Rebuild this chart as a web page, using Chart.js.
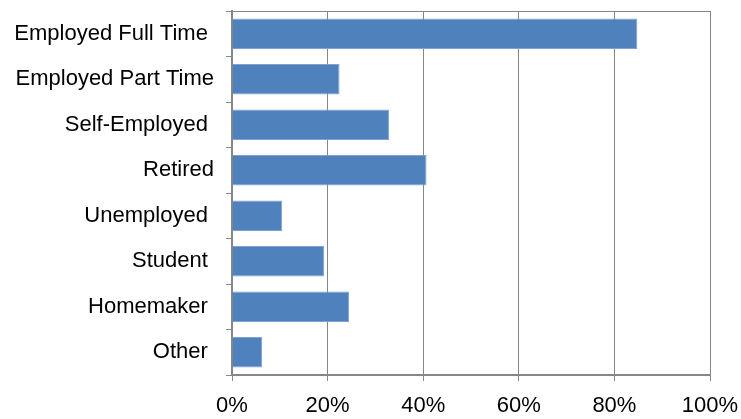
<!DOCTYPE html>
<html>
<head>
<meta charset="utf-8">
<script src="https://cdn.jsdelivr.net/npm/chart.js@4/dist/chart.umd.min.js"></script>
<style>
  html, body { margin: 0; padding: 0; background: #ffffff; }
  #wrap { width: 741px; height: 419px; }
</style>
</head>
<body>
<div id="wrap"><canvas id="employmentChart"></canvas></div>
<script>
// Datos (porcentajes)
const categorias = ["Employed Full Time ", "Employed Part Time", "Self-Employed ", "Retired", "Unemployed ", "Student ", "Homemaker ", "Other "];
const porcentajes = [84.8, 22.5, 32.9, 40.7, 10.5, 19.3, 24.5, 6.3];
const ticksX = [0, 20, 40, 60, 80, 100];

const gris = '#868686';
const fuente = { family: "'Liberation Sans', Arial, sans-serif", size: 22 };

// Quitar el relleno automatico de los ejes
function sinRelleno(scale) {
    scale.paddingTop = 0;
    scale.paddingBottom = 0;
    scale.paddingLeft = 0;
    scale.paddingRight = 0;
}

// Grafico de barras horizontales
const ctx = document.getElementById('employmentChart').getContext('2d');
const chart = new Chart(ctx, {
    type: 'bar',
    data: {
        labels: categorias,
        datasets: [{
            data: porcentajes,
            backgroundColor: '#4F81BD',
            borderColor: '#7FA2D1',
            borderWidth: 1,
            barPercentage: 0.67,
            categoryPercentage: 1.0
        }]
    },
    options: {
        indexAxis: 'y',
        responsive: true,
        maintainAspectRatio: false,
        animation: false,
        layout: { padding: { top: 11, right: 31, left: 0, bottom: 0 } },
        plugins: {
            legend: { display: false },
            tooltip: { enabled: false }
        },
        scales: {
            x: {
                min: ticksX[0],
                max: ticksX[ticksX.length - 1],
                afterFit: scale => { scale.height = 44; sinRelleno(scale); },
                afterBuildTicks: scale => { scale.ticks = ticksX.map(v => ({ value: v })); },
                ticks: {
                    color: '#000000',
                    font: fuente,
                    padding: 12,
                    callback: v => v + '%'
                },
                grid: { color: gris, lineWidth: 1, tickLength: 6 },
                border: { display: true, color: gris, width: 2 }
            },
            y: {
                afterFit: scale => { scale.width = 232; sinRelleno(scale); },
                ticks: { color: '#000000', font: fuente, padding: 12 },
                grid: {
                    offset: true,
                    color: c => c.index === 0 ? gris : 'rgba(0,0,0,0)',
                    tickColor: gris,
                    lineWidth: 1,
                    tickLength: 6
                },
                border: { display: true, color: gris, width: 2 }
            }
        }
    }
});
</script>
</body>
</html>
